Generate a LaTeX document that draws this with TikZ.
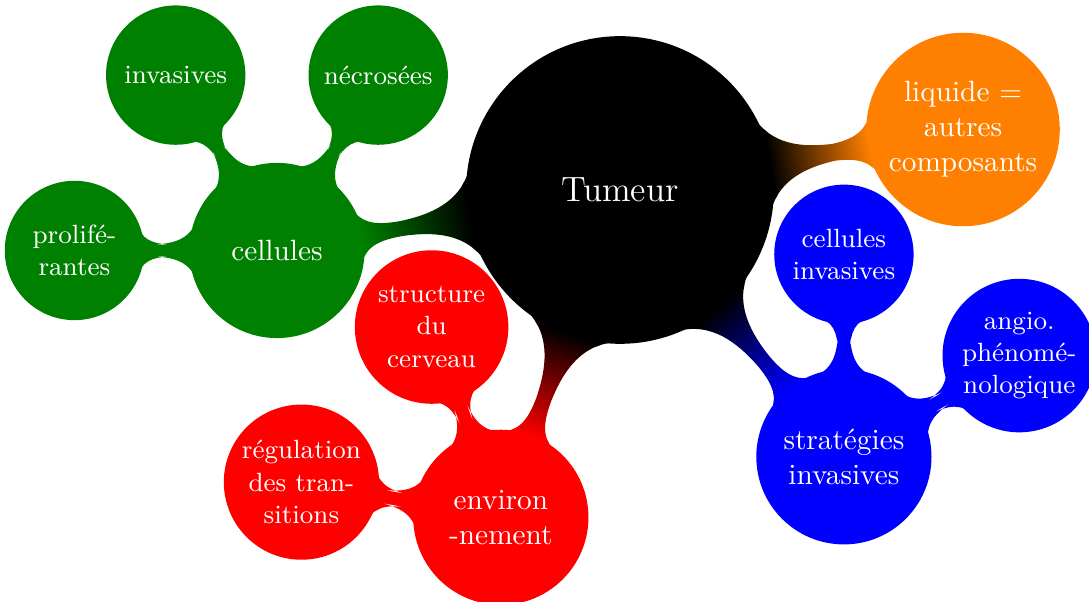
\documentclass[tikz,border=0pt]{standalone}
\usetikzlibrary{mindmap}
\begin{document}
\begin{tikzpicture}[mindmap, text=white,
every node/.style={concept, align=center, text width=, inner sep=0pt},
root concept/.append style={concept color=black, minimum size=3.65cm, font=\large},
level 1/.append style={level distance=4.18cm, sibling angle=60},
level 2/.append style={level distance=2.43cm, sibling angle=60},
level 1 concept/.append style={minimum size=2.06cm, font=\normalsize},
level 2 concept/.append style={minimum size=1.63cm, font=\small},]
\useasboundingbox (-7.44,-4.944) rectangle (5.628,2.28);
\node[root concept] (tumeur) {Tumeur} [counterclockwise from=190]
            child[concept color=green!50!black] {node (cellules) {cellules} [clockwise from=180]
                child {node (prolif) {prolifé-\\rantes}}
                child {node (invasives) {invasives}}
                child {node (necrosees) {nécrosées}}
            }
            child[concept color=red] {node (environ) {environ\\-nement} [counterclockwise from=110]
                child {node[minimum size=1.8cm] (cerveau) {structure\\du\\cerveau}}
                child {node[minimum size=1.82cm] (regulation) {régulation\\des tran-\\sitions}}
            }
            child[concept color=blue] {node (strategies) {stratégies\\invasives} [counterclockwise from=30]
                child {node[minimum size=1.8cm] (angio) {angio.\\phénomé-\\nologique}}
                child {node (celinv) {cellules\\invasives}}
            }
            child[concept color=orange] {node[minimum size=2.28cm] (liquide) {liquide =\\autres\\composants}}
            ;

\end{tikzpicture}
\end{document}
